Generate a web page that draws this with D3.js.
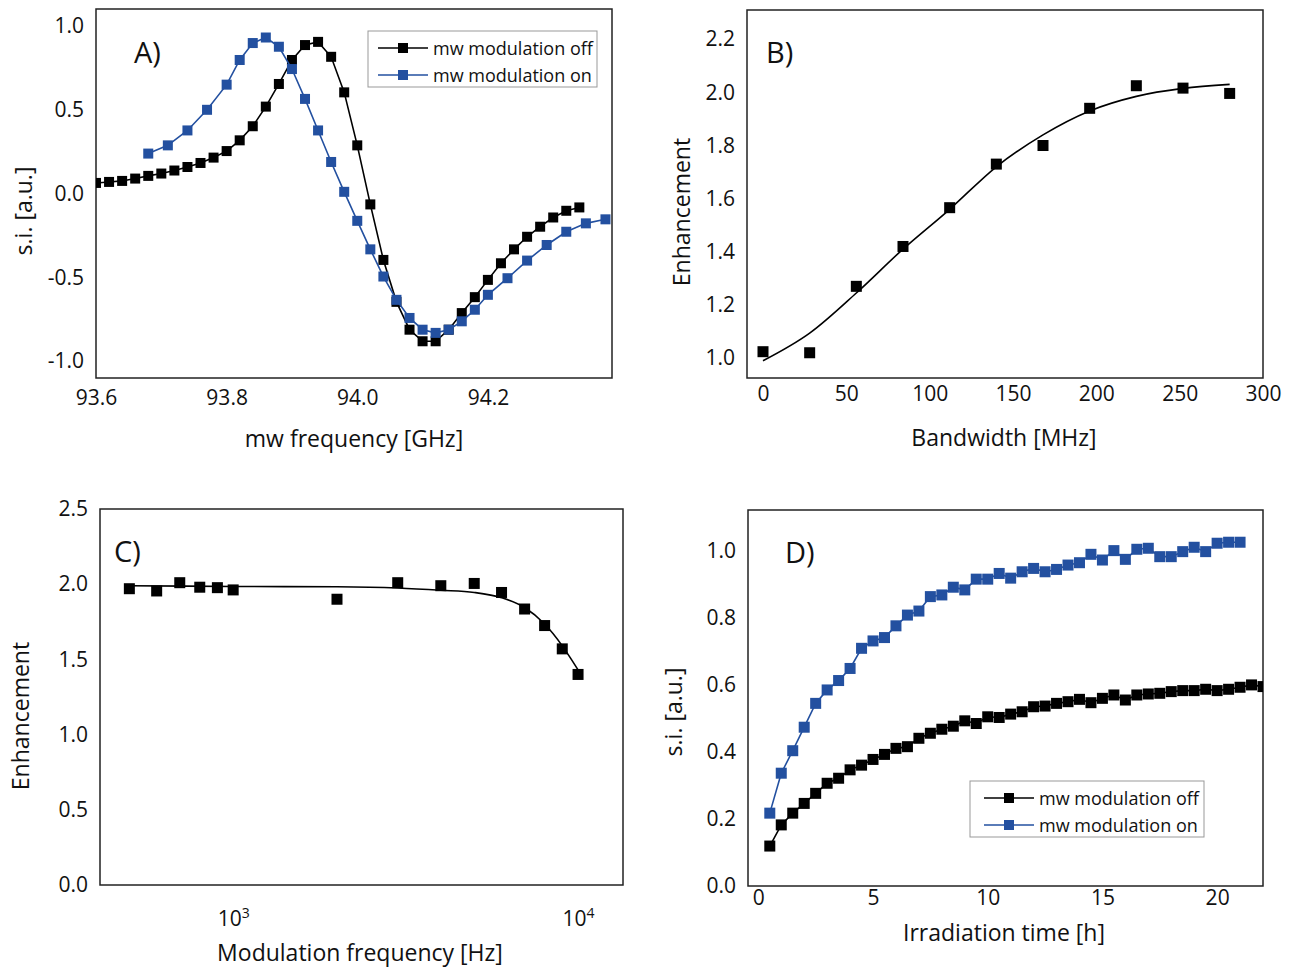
<!DOCTYPE html>
<html><head><meta charset="utf-8">
<script src="https://cdn.jsdelivr.net/npm/d3@7"></script>
<style>body{margin:0;background:#fff}svg text{font-family:"Open Sans",sans-serif;fill:#111}</style>
</head><body><svg id="c" width="1298" height="970"></svg>
<script>
// ---------- DATA ----------
// Panel A
const aOffX = [93.60,93.62,93.64,93.66,93.68,93.70,93.72,93.74,93.76,93.78,93.80,93.82,93.84,93.86,93.88,93.90,93.92,93.94,93.96,93.98,94.00,94.02,94.04,94.06,94.08,94.10,94.12,94.14,94.16,94.18,94.20,94.22,94.24,94.26,94.28,94.30,94.32,94.34];
const aOffY = [0.063,0.069,0.075,0.089,0.105,0.119,0.137,0.158,0.182,0.214,0.253,0.317,0.401,0.518,0.653,0.796,0.885,0.904,0.815,0.603,0.287,-0.065,-0.396,-0.646,-0.812,-0.881,-0.881,-0.812,-0.713,-0.618,-0.515,-0.416,-0.333,-0.258,-0.198,-0.143,-0.103,-0.083];
const aOnX = [93.68,93.71,93.74,93.77,93.80,93.82,93.84,93.86,93.88,93.90,93.92,93.94,93.96,93.98,94.00,94.02,94.04,94.06,94.08,94.10,94.12,94.14,94.16,94.18,94.20,94.23,94.26,94.29,94.32,94.35,94.38];
const aOnY = [0.238,0.287,0.376,0.499,0.649,0.796,0.897,0.930,0.875,0.742,0.564,0.376,0.188,0.010,-0.163,-0.333,-0.495,-0.634,-0.742,-0.812,-0.831,-0.812,-0.762,-0.693,-0.604,-0.505,-0.400,-0.307,-0.228,-0.178,-0.154];
const aXTicks = [93.6,93.8,94.0,94.2];
const aYTicks = [-1.0,-0.5,0.0,0.5,1.0];
// Panel B
const bX = [0,28,56,84,112,140,168,196,224,252,280];
const bY = [1.024,1.02,1.27,1.42,1.566,1.73,1.80,1.94,2.025,2.016,1.996];
const bFitX = [0,28,56,84,112,140,168,196,224,252,280];
const bFitY = [0.99,1.094,1.245,1.41,1.56,1.72,1.84,1.93,1.985,2.015,2.03];
const bXTicks = [0,50,100,150,200,250,300];
const bYTicks = [1.0,1.2,1.4,1.6,1.8,2.0,2.2];
// Panel C
const cX = [500,600,700,800,900,1000,2000,3000,4000,5000,6000,7000,8000,9000,10000];
const cY = [1.97,1.955,2.01,1.98,1.977,1.962,1.90,2.01,1.99,2.005,1.945,1.835,1.725,1.57,1.40];
const cFitX = [500,1000,2000,3000,4000,5000,6000,7000,8000,9000,9500,10000];
const cFitY = [1.99,1.985,1.983,1.975,1.96,1.945,1.91,1.845,1.735,1.59,1.51,1.43];
const cXTicks = [1000,10000];
const cYTicks = [0.0,0.5,1.0,1.5,2.0,2.5];
// Panel D
const dOffX = [0.5,1,1.5,2,2.5,3,3.5,4,4.5,5,5.5,6,6.5,7,7.5,8,8.5,9,9.5,10,10.5,11,11.5,12,12.5,13,13.5,14,14.5,15,15.5,16,16.5,17,17.5,18,18.5,19,19.5,20,20.5,21,21.5,22];
const dOffY = [0.119,0.182,0.217,0.246,0.276,0.306,0.321,0.346,0.360,0.377,0.392,0.410,0.415,0.440,0.455,0.467,0.476,0.492,0.484,0.504,0.502,0.512,0.519,0.534,0.536,0.544,0.549,0.556,0.546,0.559,0.569,0.554,0.569,0.572,0.574,0.579,0.582,0.582,0.586,0.582,0.586,0.592,0.599,0.594];
const dOnX = [0.5,1,1.5,2,2.5,3,3.5,4,4.5,5,5.5,6,6.5,7,7.5,8,8.5,9,9.5,10,10.5,11,11.5,12,12.5,13,13.5,14,14.5,15,15.5,16,16.5,17,17.5,18,18.5,19,19.5,20,20.5,21];
const dOnY = [0.217,0.336,0.403,0.473,0.544,0.584,0.612,0.648,0.708,0.730,0.740,0.775,0.807,0.819,0.862,0.867,0.890,0.882,0.914,0.914,0.931,0.917,0.936,0.946,0.936,0.943,0.956,0.963,0.988,0.971,0.999,0.973,1.003,1.006,0.981,0.981,0.996,1.009,0.996,1.021,1.024,1.024];
const dXTicks = [0,5,10,15,20];
const dYTicks = [0.0,0.2,0.4,0.6,0.8,1.0];
const legendLabels = ["mw modulation off","mw modulation on"];

// ---------- DRAW ----------
const BLACK = "#000", BLUE = "#2350a0";
const FS = 21, TFS = 23;
const svg = d3.select("#c");
const zip = (xs, ys) => xs.map((x,i)=>[x, ys[i]]);
const f1 = d => d3.format(".1f")(d).replace("\u2212", "-");
let clipId = 0;

function panel(o){
  const g = svg.append("g");
  const x = o.x, y = o.y;
  const id = "clip" + (clipId++);
  svg.append("clipPath").attr("id", id).append("rect")
    .attr("x", o.L).attr("y", o.T).attr("width", o.R-o.L).attr("height", o.B-o.T);
  const ya = d3.axisLeft(y).tickValues(o.yTicks).tickSize(0).tickPadding(o.yPad).tickFormat(f1);
  const yg = g.append("g").attr("transform", `translate(${o.L},0)`).call(ya);
  yg.select(".domain").remove();
  yg.selectAll("text").style("font-size", FS+"px").style("font-family","Open Sans").attr("fill","#111");
  const xa = d3.axisBottom(x).tickValues(o.xTicks).tickSize(0).tickPadding(o.xPad).tickFormat(o.xFmt || (d=>d));
  const xg = g.append("g").attr("transform", `translate(0,${o.B})`).call(xa);
  xg.select(".domain").remove();
  xg.selectAll("text").style("font-size", FS+"px").style("font-family","Open Sans").attr("fill","#111");
  if (o.xPost) o.xPost(xg);
  g.append("rect").attr("x", o.L).attr("y", o.T).attr("width", o.R-o.L).attr("height", o.B-o.T)
    .attr("fill","none").attr("stroke","#222").attr("stroke-width",1.5);
  const plot = g.append("g").attr("clip-path", `url(#${id})`);
  g.append("text").attr("x", o.xt[0]).attr("y", o.xt[1]).attr("text-anchor","middle")
    .attr("dominant-baseline","central").style("font-size", TFS+"px").text(o.xTitle);
  g.append("text").attr("transform", `translate(${o.yt[0]},${o.yt[1]}) rotate(-90)`).attr("text-anchor","middle")
    .attr("dominant-baseline","central").style("font-size", TFS+"px").text(o.yTitle);
  g.append("text").attr("x", o.lab[0]).attr("y", o.lab[1]).style("font-size","29px").text(o.label);
  return {g, plot, x, y};
}

function series(p, data, color, ms, withLine, curve){
  if (withLine) {
    p.plot.append("path").datum(data).attr("fill","none").attr("stroke", color).attr("stroke-width",1.6)
      .attr("d", d3.line().x(d=>p.x(d[0])).y(d=>p.y(d[1])).curve(curve || d3.curveLinear));
  }
  if (ms) {
    p.plot.selectAll(null).data(data).enter().append("rect")
      .attr("x", d=>p.x(d[0])-ms/2).attr("y", d=>p.y(d[1])-ms/2)
      .attr("width", ms).attr("height", ms).attr("fill", color);
  }
}

function legend(p, bx, by, bw, bh, pad, rows, colors){
  const lg = p.g.append("g");
  lg.append("rect").attr("x",bx).attr("y",by).attr("width",bw).attr("height",bh)
    .attr("fill","#fff").attr("stroke","#999").attr("stroke-width",1);
  rows.forEach((t,i)=>{
    const cy = by + 17 + i*27;
    lg.append("line").attr("x1",bx+pad).attr("x2",bx+pad+50).attr("y1",cy).attr("y2",cy)
      .attr("stroke",colors[i]).attr("stroke-width",1.6);
    lg.append("rect").attr("x",bx+pad+20).attr("y",cy-5).attr("width",10).attr("height",10).attr("fill",colors[i]);
    lg.append("text").attr("x",bx+pad+55).attr("y",cy).attr("dominant-baseline","central")
      .style("font-size","18px").text(t);
  });
}

// Panel A
const pA = panel({L:96,R:612,T:9,B:378,
  x:d3.scaleLinear().domain([93.6,94.39]).range([96,612]),
  y:d3.scaleLinear().domain([-1.1,1.1]).range([378,9]),
  xTicks:aXTicks, yTicks:aYTicks, yPad:12, xPad:12, xFmt:f1,
  xTitle:"mw frequency [GHz]", yTitle:"s.i. [a.u.]", xt:[354,438], yt:[23,211], label:"A)", lab:[134,63]});
series(pA, zip(aOffX,aOffY), BLACK, 10, true);
series(pA, zip(aOnX,aOnY), BLUE, 10, true);
legend(pA, 368, 31, 229, 56, 10, legendLabels, [BLACK, BLUE]);

// Panel B
const pB = panel({L:747,R:1263,T:10,B:378,
  x:d3.scaleLinear().domain([-9.6,300]).range([747,1263]),
  y:d3.scaleLinear().domain([0.925,2.31]).range([378,10]),
  xTicks:bXTicks, yTicks:bYTicks, yPad:12, xPad:8,
  xTitle:"Bandwidth [MHz]", yTitle:"Enhancement", xt:[1004,437], yt:[681,212], label:"B)", lab:[766,63]});
series(pB, zip(bFitX,bFitY), BLACK, 0, true, d3.curveMonotoneX);
series(pB, zip(bX,bY), BLACK, 11, false);

// Panel C
const pC = panel({L:100,R:623,T:509,B:885,
  x:d3.scaleLog().domain([411,13500]).range([100,623]),
  y:d3.scaleLinear().domain([0,2.5]).range([885,509]),
  xTicks:cXTicks, yTicks:cYTicks, yPad:12, xPad:26, xFmt:d=>"",
  xPost: xg => {
    xg.selectAll(".tick text").each(function(d){
      const t = d3.select(this);
      t.append("tspan").text("10");
      t.append("tspan").attr("dy","-0.6em").style("font-size","14px").text(String(Math.round(Math.log10(d))));
    });
  },
  xTitle:"Modulation frequency [Hz]", yTitle:"Enhancement", xt:[360,952], yt:[20,716], label:"C)", lab:[114,562]});
series(pC, zip(cFitX,cFitY), BLACK, 0, true, d3.curveMonotoneX);
series(pC, zip(cX,cY), BLACK, 11, false);

// Panel D
const pD = panel({L:748,R:1263,T:510,B:886,
  x:d3.scaleLinear().domain([-0.45,22]).range([748,1263]),
  y:d3.scaleLinear().domain([0,1.12]).range([886,510]),
  xTicks:dXTicks, yTicks:dYTicks, yPad:12, xPad:4,
  xTitle:"Irradiation time [h]", yTitle:"s.i. [a.u.]", xt:[1004,932], yt:[673,712], label:"D)", lab:[785,563]});
series(pD, zip(dOffX,dOffY), BLACK, 11, true);
series(pD, zip(dOnX,dOnY), BLUE, 11, true);
legend(pD, 970, 781, 234, 56, 14, legendLabels, [BLACK, BLUE]);
</script></body></html>
